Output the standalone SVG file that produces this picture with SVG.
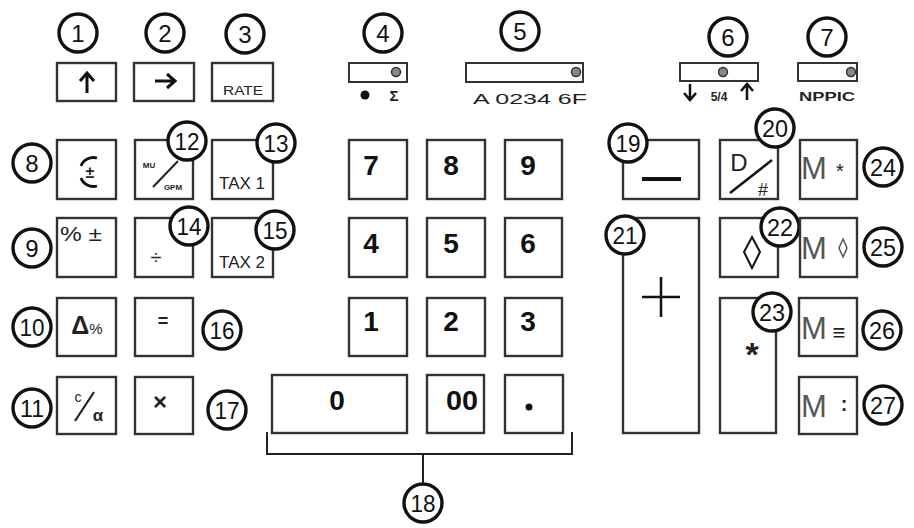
<svg xmlns="http://www.w3.org/2000/svg" width="914" height="528" viewBox="0 0 914 528">
<style>
.key{fill:#fff;stroke:#333;stroke-width:2.4}
.c{fill:#fff;stroke:#111;stroke-width:3.4}
.n{font-family:"Liberation Sans",Arial,sans-serif;font-size:24px;fill:#111;text-anchor:middle}
.d{font-family:"Liberation Sans",Arial,sans-serif;font-size:28px;font-weight:bold;fill:#111;text-anchor:middle}
.s{font-family:"Liberation Sans",Arial,sans-serif;fill:#222;text-anchor:middle}
.m{font-family:"Liberation Sans",Arial,sans-serif;font-size:31px;fill:#555;text-anchor:start}
.sl{fill:#fff;stroke:#333;stroke-width:2}
.kn{fill:#888;stroke:#333;stroke-width:1.5}
.ln{stroke:#222;stroke-width:2;fill:none}
</style>
<rect width="914" height="528" fill="#fff"/>
<g id="connectors">
<path class="ln" d="M267,432 V454 H572 V432 M423,454 V484"/>
</g>
<g id="k1"><rect class="key" x="57" y="63" width="59" height="38"/><path d="M87,93 V74 M80,81 L87,73 L94,81" stroke="#111" stroke-width="3" fill="none"/><circle class="c" cx="78" cy="33" r="19"/><text class="n" x="78" y="42">1</text></g>
<g id="k2"><rect class="key" x="134" y="63" width="60" height="38"/><path d="M155,81 H174 M167,74 L175,81 L167,88" stroke="#111" stroke-width="3" fill="none"/><circle class="c" cx="165" cy="33" r="19"/><text class="n" x="165" y="42">2</text></g>
<g id="k3"><rect class="key" x="212" y="63" width="61" height="38"/><text class="s" x="243" y="95" font-size="13" textLength="40" lengthAdjust="spacingAndGlyphs">RATE</text><circle class="c" cx="245" cy="34" r="19"/><text class="n" x="245" y="43">3</text></g>
<g id="k4"><rect class="sl" x="349" y="63" width="58" height="19"/><circle class="kn" cx="396" cy="72" r="4.5"/><circle cx="365" cy="95" r="4.5" fill="#111"/><text class="s" x="394" y="101" font-size="15" font-weight="bold">Σ</text><circle class="c" cx="383" cy="33" r="19"/><text class="n" x="383" y="42">4</text></g>
<g id="k5"><rect class="sl" x="466" y="63" width="117" height="19"/><circle class="kn" cx="576" cy="72" r="4.5"/><text class="s" x="530" y="104" font-size="15" textLength="114" lengthAdjust="spacingAndGlyphs">A 0234 6F</text><circle class="c" cx="520" cy="31" r="19"/><text class="n" x="520" y="40">5</text></g>
<g id="k6"><rect class="sl" x="680" y="63" width="78" height="18"/><circle class="kn" cx="723" cy="72" r="4.5"/><path d="M690,84 V99 M684,93 L690,100 L696,93 M747,100 V85 M741,91 L747,84 L753,91" stroke="#111" stroke-width="2.5" fill="none"/><text class="s" x="719" y="101" font-size="12" font-weight="bold">5/4</text><circle class="c" cx="728" cy="37" r="19"/><text class="n" x="728" y="46">6</text></g>
<g id="k7"><rect class="sl" x="798" y="63" width="59" height="18"/><circle class="kn" cx="851" cy="72" r="4.5"/><text class="s" x="827" y="101" font-size="13" font-weight="bold" textLength="56" lengthAdjust="spacingAndGlyphs">NPPIC</text><circle class="c" cx="827" cy="37" r="19"/><text class="n" x="827" y="46">7</text></g>
<g id="k8"><rect class="key" x="57" y="140" width="59" height="59"/><path d="M97,158 A13,12 0 0 0 81,166 M81,178 A13,12 0 0 0 97,186" stroke="#111" stroke-width="2.8" fill="none"/><text class="s" x="90" y="178" font-size="16" font-weight="bold">±</text><circle class="c" cx="32" cy="163" r="19"/><text class="n" x="32" y="172">8</text></g>
<g id="k12"><rect class="key" x="135" y="140" width="58" height="59"/><text class="s" x="149" y="168" font-size="8" font-weight="bold">MU</text><path d="M153,187 L178,161" stroke="#222" stroke-width="2"/><text class="s" x="173" y="190" font-size="8" font-weight="bold">GPM</text><circle class="c" cx="187" cy="141" r="19"/><text class="n" x="187" y="150" textLength="25" lengthAdjust="spacingAndGlyphs">12</text></g>
<g id="k13"><rect class="key" x="212" y="140" width="61" height="59"/><text class="s" x="242" y="189" font-size="16" textLength="46" lengthAdjust="spacingAndGlyphs">TAX 1</text><circle class="c" cx="276" cy="143" r="19"/><text class="n" x="276" y="152" textLength="25" lengthAdjust="spacingAndGlyphs">13</text></g>
<g id="k9"><rect class="key" x="57" y="218" width="59" height="59"/><text class="s" x="81" y="241" font-size="20" textLength="42" lengthAdjust="spacingAndGlyphs">% ±</text><circle class="c" cx="32" cy="248" r="19"/><text class="n" x="32" y="257">9</text></g>
<g id="k14"><rect class="key" x="135" y="218" width="58" height="59"/><text class="s" x="156" y="264" font-size="20" fill="#666">÷</text><circle class="c" cx="189" cy="226" r="19"/><text class="n" x="189" y="235" textLength="25" lengthAdjust="spacingAndGlyphs">14</text></g>
<g id="k15"><rect class="key" x="212" y="218" width="61" height="59"/><text class="s" x="242" y="268" font-size="16" textLength="46" lengthAdjust="spacingAndGlyphs">TAX 2</text><circle class="c" cx="275" cy="230" r="19"/><text class="n" x="275" y="239" textLength="25" lengthAdjust="spacingAndGlyphs">15</text></g>
<g id="k10"><rect class="key" x="57" y="298" width="59" height="58"/><text class="s" x="87" y="334" font-size="25" font-weight="bold">Δ<tspan font-size="15" font-weight="normal">%</tspan></text><circle class="c" cx="32" cy="327" r="19"/><text class="n" x="32" y="336" textLength="25" lengthAdjust="spacingAndGlyphs">10</text></g>
<g id="k16"><rect class="key" x="135" y="298" width="58" height="58"/><text class="s" x="163" y="327" font-size="18" font-weight="bold" fill="#555">=</text><circle class="c" cx="222" cy="330" r="19"/><text class="n" x="222" y="339" textLength="25" lengthAdjust="spacingAndGlyphs">16</text></g>
<g id="k11"><rect class="key" x="57" y="377" width="59" height="57"/><text class="s" x="78" y="402" font-size="14">c</text><path d="M75,421 L94,392" stroke="#222" stroke-width="2.2"/><text class="s" x="98" y="421" font-size="17" font-weight="bold">α</text><circle class="c" cx="32" cy="408" r="19"/><text class="n" x="32" y="417" textLength="24" lengthAdjust="spacingAndGlyphs">11</text></g>
<g id="k17"><rect class="key" x="135" y="377" width="58" height="57"/><text class="s" x="160" y="410" font-size="24" font-weight="bold">×</text><circle class="c" cx="227" cy="410" r="19"/><text class="n" x="227" y="419" textLength="25" lengthAdjust="spacingAndGlyphs">17</text></g>
<g id="kd7"><rect class="key" x="349" y="140" width="58" height="59"/><text class="d" x="371" y="175">7</text></g>
<g id="kd8"><rect class="key" x="427" y="140" width="58" height="59"/><text class="d" x="451" y="175">8</text></g>
<g id="kd9"><rect class="key" x="505" y="140" width="57" height="59"/><text class="d" x="528" y="175">9</text></g>
<g id="kd4"><rect class="key" x="349" y="218" width="58" height="59"/><text class="d" x="371" y="253">4</text></g>
<g id="kd5"><rect class="key" x="427" y="218" width="58" height="59"/><text class="d" x="451" y="253">5</text></g>
<g id="kd6"><rect class="key" x="505" y="218" width="57" height="59"/><text class="d" x="528" y="253">6</text></g>
<g id="kd1"><rect class="key" x="349" y="298" width="58" height="58"/><text class="d" x="371" y="331">1</text></g>
<g id="kd2"><rect class="key" x="427" y="298" width="58" height="58"/><text class="d" x="451" y="331">2</text></g>
<g id="kd3"><rect class="key" x="505" y="298" width="57" height="58"/><text class="d" x="528" y="331">3</text></g>
<g id="kd0"><rect class="key" x="272" y="375" width="135" height="58"/><text class="d" x="337" y="410">0</text></g>
<g id="kd00"><rect class="key" x="427" y="375" width="57" height="58"/><text class="d" x="462" y="410" textLength="32" lengthAdjust="spacingAndGlyphs">00</text></g>
<g id="kdot"><rect class="key" x="505" y="375" width="58" height="58"/><circle cx="529" cy="407" r="3.5" fill="#111"/></g>
<g id="n18"><circle class="c" cx="423" cy="503" r="19"/><text class="n" x="423" y="512" textLength="25" lengthAdjust="spacingAndGlyphs">18</text></g>
<g id="k19"><rect class="key" x="623" y="140" width="76" height="59"/><path d="M642,179 H681" stroke="#111" stroke-width="4"/><circle class="c" cx="628" cy="143" r="19"/><text class="n" x="628" y="152" textLength="25" lengthAdjust="spacingAndGlyphs">19</text></g>
<g id="k20"><rect class="key" x="720" y="140" width="58" height="59"/><text class="s" x="739" y="171" font-size="24">D</text><path d="M730,193 L772,160" stroke="#111" stroke-width="2.5"/><text class="s" x="763" y="196" font-size="18">#</text><circle class="c" cx="775" cy="128" r="19"/><text class="n" x="775" y="137" textLength="26" lengthAdjust="spacingAndGlyphs">20</text></g>
<g id="k24"><rect class="key" x="800" y="140" width="57" height="59"/><text class="m" x="801" y="179">M</text><text class="s" x="840" y="178" font-size="20" fill="#444">*</text><circle class="c" cx="883" cy="167" r="19"/><text class="n" x="883" y="176" textLength="26" lengthAdjust="spacingAndGlyphs">24</text></g>
<g id="k21"><rect class="key" x="623" y="218" width="76" height="215"/><path d="M642,297 H680 M661,277 V317" stroke="#111" stroke-width="2.5"/><circle class="c" cx="625" cy="235" r="19"/><text class="n" x="625" y="244" textLength="25" lengthAdjust="spacingAndGlyphs">21</text></g>
<g id="k22"><rect class="key" x="720" y="218" width="58" height="59"/><path d="M752,237 L760,252 L752,268 L744,252 Z" stroke="#111" stroke-width="2" fill="none"/><circle class="c" cx="780" cy="227" r="19"/><text class="n" x="780" y="236" textLength="26" lengthAdjust="spacingAndGlyphs">22</text></g>
<g id="k25"><rect class="key" x="800" y="218" width="57" height="59"/><text class="m" x="801" y="259">M</text><path d="M843,239 L847,248 L843,257 L839,248 Z" stroke="#555" stroke-width="1.5" fill="none"/><circle class="c" cx="883" cy="247" r="19"/><text class="n" x="883" y="256" textLength="26" lengthAdjust="spacingAndGlyphs">25</text></g>
<g id="k23"><rect class="key" x="720" y="298" width="56" height="135"/><text class="s" x="752" y="366" font-size="34" font-weight="bold">*</text><circle class="c" cx="772" cy="312" r="19"/><text class="n" x="772" y="321" textLength="26" lengthAdjust="spacingAndGlyphs">23</text></g>
<g id="k26"><rect class="key" x="799" y="298" width="58" height="58"/><text class="m" x="801" y="339">M</text><text class="s" x="839" y="340" font-size="22" fill="#444">≡</text><circle class="c" cx="882" cy="330" r="19"/><text class="n" x="882" y="339" textLength="26" lengthAdjust="spacingAndGlyphs">26</text></g>
<g id="k27"><rect class="key" x="799" y="377" width="58" height="57"/><text class="m" x="801" y="417">M</text><text class="s" x="844" y="411" font-size="20" font-weight="bold" fill="#444">:</text><circle class="c" cx="883" cy="405" r="19"/><text class="n" x="883" y="414" textLength="26" lengthAdjust="spacingAndGlyphs">27</text></g>
</svg>
